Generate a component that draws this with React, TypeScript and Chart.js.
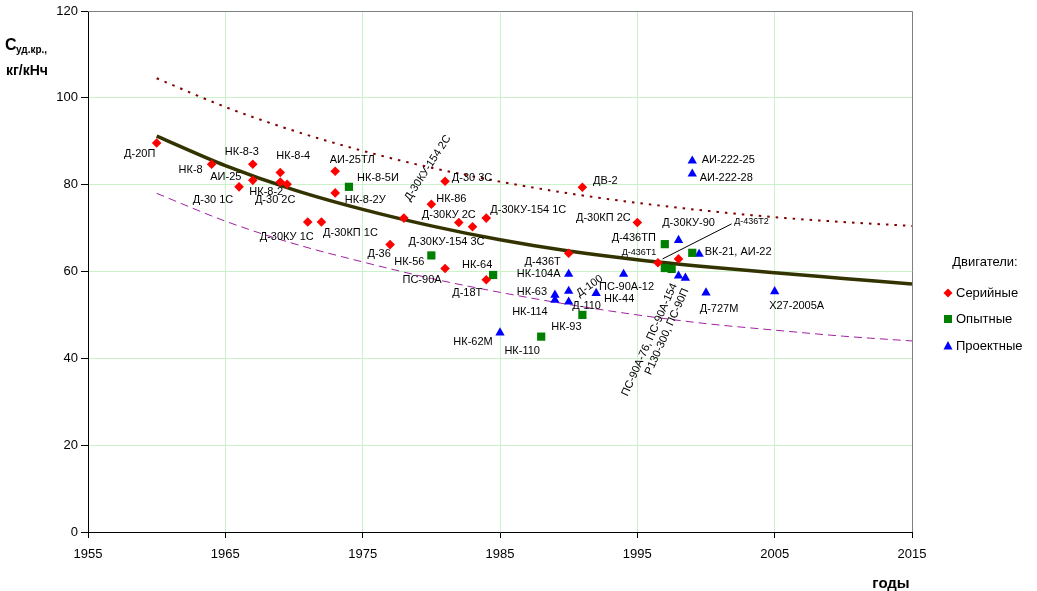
import React, { useEffect, useRef } from "react";
import { Chart, registerables } from "chart.js";

Chart.register(...registerables);

const FONT = '"Liberation Sans", Arial, Helvetica, sans-serif';

// ---------- data ----------
const yearMin = 1955;
const yearMax = 2015;
const yMin = 0;
const yMax = 120;

// Серийные
const serialYears = [1960, 1964, 1967, 1967, 1966, 1969, 1969, 1969.5, 1973, 1973, 1971, 1972, 1977, 1978, 1980, 1981, 1982, 1983, 1984, 1991, 1995, 1990, 1996.5, 1998, 1981, 1984];
const serialValues = [89.6, 84.7, 84.7, 81.0, 79.5, 82.8, 80.6, 80.1, 83.1, 78.1, 71.4, 71.4, 66.2, 72.3, 75.5, 80.8, 71.3, 70.3, 72.3, 79.4, 71.3, 64.2, 62.0, 62.9, 60.7, 58.1];
const serialNames = ["Д-20П", "НК-8", "НК-8-3", "АИ-25", "Д-30 1С", "НК-8-4", "НК-8-2", "Д-30 2С", "АИ-25ТЛ", "НК-8-2У", "Д-30КУ 1С", "Д-30КП 1С", "Д-36", "Д-30КУ-154 2С", "НК-86", "Д-30 3С", "Д-30КУ 2С", "Д-30КУ-154 3С", "Д-30КУ-154 1С", "ДВ-2", "Д-30КП 2С", "Д-436Т", "Д-436Т1", "Д-436Т2", "ПС-90А", "Д-18Т"];
const serialLabelOffsets: [number, number][] = [[-17, 11], [-21, 6], [-11, -12], [-27, -3], [-26, 13], [13, -17], [-14, 10], [-12, 16], [17, -11], [30, 7], [-21, 15], [29, 11], [-11, 9], [24, -50], [20, -5], [27, -3], [-10, -7], [-26, 15], [42, -8], [23, -6], [-34, -4], [-26, 9], [-19, -10], [73, -37], [-23, 12], [-19, 13]];

// Опытные
const experimentalYears = [1974, 1980, 1984.5, 1991, 1988, 1997, 1997, 1997.5, 1999];
const experimentalValues = [79.5, 63.7, 59.2, 50.0, 45.0, 66.3, 60.8, 60.6, 64.3];
const experimentalNames = ["НК-8-5И", "НК-56", "НК-64", "НК-93", "НК-110", "Д-436ТП", "", "", ""];
const experimentalLabelOffsets: [number, number][] = [[29, -9], [-22, 7], [-16, -10], [-16, 12], [-19, 14], [-31, -6], [0, 0], [0, 0], [0, 0]];

// Проектные
const projectYears = [1999, 1999, 1998, 1999.5, 1998, 1998.5, 2000, 2005, 1994, 1990, 1989, 1989, 1990, 1990, 1992, 1985];
const projectValues = [85.5, 82.5, 67.2, 64.0, 59.0, 58.5, 55.1, 55.4, 59.4, 59.4, 54.6, 53.4, 55.5, 53.0, 55.0, 45.9];
const projectNames = ["АИ-222-25", "АИ-222-28", "Д-30КУ-90", "ВК-21, АИ-22", "ПС-90А-76, ПС-90А-154\nР130-300, ПС-90П", "", "Д-727М", "Х27-2005А", "ПС-90А-12", "НК-104А", "НК-63", "НК-114", "Д-100", "Д-110", "НК-44", "НК-62М"];
const projectLabelOffsets: [number, number][] = [[36, -1], [34, 4], [10, -17], [39, -2], [-4, 8], [0, 0], [13, 16], [22, 14], [3, 13], [-30, 0], [-23, -3], [-25, 12], [21, -5], [18, 4], [23, 6], [-27, 9]];

// curves
const curveYears = [1960, 1965, 1970, 1975, 1980, 1985, 1990, 1995, 2000, 2005, 2010, 2015];
const trendValues = [91.2, 84.4, 78.8, 74.3, 70.5, 67.3, 64.7, 62.7, 61.1, 59.7, 58.4, 57.1];
const upperValues = [104.5, 97.9, 92.4, 87.8, 83.9, 80.7, 78.0, 75.8, 74.0, 72.5, 71.4, 70.5];
const lowerValues = [78.0, 71.6, 66.4, 62.2, 58.4, 55.2, 52.4, 50.0, 48.0, 46.5, 45.1, 44.0];

const legendTitle = "Двигатели:";
const legendItems = ["Серийные", "Опытные", "Проектные"];
const yTitleMain = "С";
const yTitleSub = "уд.кр.,";
const yTitleUnit = "кг/кНч";
const xTitle = "годы";

// label styling
const rotatedLabels: Record<string, { angle: number; align: CanvasTextAlign }> = {
  "Д-30КУ-154 2С": { angle: -57, align: "center" },
  "Д-100": { angle: -35, align: "center" },
  "ПС-90А-76, ПС-90А-154\nР130-300, ПС-90П": { angle: -66, align: "right" },
};
const smallLabels = ["Д-436Т1", "Д-436Т2"];
const leaderLines: Record<string, [[number, number], [number, number]]> = {
  "Д-436Т2": [[-16, 0], [53, -35]],
};

const RED = "#ff0000";
const GREEN = "#008000";
const BLUE = "#0000ff";
const GRID = "#ccf2cc";

const toXY = (xs: number[], ys: number[]) => xs.map((x, i) => ({ x, y: ys[i] }));

const labelPlugin = {
  id: "pointLabels",
  afterDatasetsDraw(chart: any) {
    const ctx: CanvasRenderingContext2D = chart.ctx;
    chart.data.datasets.forEach((ds: any, di: number) => {
      if (!ds.pointNames) return;
      const meta = chart.getDatasetMeta(di);
      ds.pointNames.forEach((name: string, i: number) => {
        if (!name) return;
        const el = meta.data[i];
        const [dx, dy] = ds.labelOffsets[i];
        ctx.save();
        ctx.font = `${smallLabels.includes(name) ? 9 : 11}px ${FONT}`;
        ctx.fillStyle = "#000";
        ctx.textBaseline = "middle";
        ctx.translate(el.x + dx, el.y + dy);
        const rot = rotatedLabels[name];
        if (rot) {
          ctx.rotate((rot.angle * Math.PI) / 180);
          ctx.textAlign = rot.align;
        } else {
          ctx.textAlign = "center";
        }
        name.split("\n").forEach((ln, k) => ctx.fillText(ln, 0, k * 12.5));
        ctx.restore();
        const lead = leaderLines[name];
        if (lead) {
          ctx.save();
          ctx.strokeStyle = "#000";
          ctx.lineWidth = 1;
          ctx.beginPath();
          ctx.moveTo(el.x + lead[0][0], el.y + lead[0][1]);
          ctx.lineTo(el.x + lead[1][0], el.y + lead[1][1]);
          ctx.stroke();
          ctx.restore();
        }
      });
    });
  },
};

const framePlugin = {
  id: "frame",
  beforeDatasetsDraw(chart: any) {
    const { ctx, chartArea } = chart;
    ctx.save();
    ctx.strokeStyle = "#808080";
    ctx.lineWidth = 1;
    ctx.beginPath();
    ctx.moveTo(chartArea.left, chartArea.top + 0.5);
    ctx.lineTo(chartArea.right + 0.5, chartArea.top + 0.5);
    ctx.lineTo(chartArea.right + 0.5, chartArea.bottom);
    ctx.stroke();
    ctx.restore();
  },
};

const titlesPlugin = {
  id: "titles",
  afterDraw(chart: any) {
    const ctx: CanvasRenderingContext2D = chart.ctx;
    ctx.save();
    ctx.fillStyle = "#000";
    ctx.textBaseline = "alphabetic";
    ctx.textAlign = "left";
    // Y title
    ctx.font = `bold 16px ${FONT}`;
    ctx.fillText(yTitleMain, 5, 50);
    ctx.font = `bold 10px ${FONT}`;
    ctx.fillText(yTitleSub, 16, 53);
    ctx.font = `bold 14px ${FONT}`;
    ctx.fillText(yTitleUnit, 6, 75);
    // X title
    ctx.font = `bold 15px ${FONT}`;
    ctx.textAlign = "center";
    ctx.fillText(xTitle, 891, 588);
    // Legend
    ctx.font = `13px ${FONT}`;
    ctx.textBaseline = "middle";
    ctx.fillText(legendTitle, 985, 262);
    ctx.textAlign = "left";
    const ys = [293, 319, 346];
    const colors = [RED, GREEN, BLUE];
    legendItems.forEach((txt, i) => {
      const cx = 948;
      const cy = ys[i];
      ctx.fillStyle = colors[i];
      ctx.beginPath();
      if (i === 0) {
        ctx.moveTo(cx, cy - 4.5);
        ctx.lineTo(cx + 4.5, cy);
        ctx.lineTo(cx, cy + 4.5);
        ctx.lineTo(cx - 4.5, cy);
      } else if (i === 1) {
        ctx.rect(cx - 4, cy - 4, 8, 8);
      } else {
        ctx.moveTo(cx, cy - 5);
        ctx.lineTo(cx + 4.5, cy + 3.5);
        ctx.lineTo(cx - 4.5, cy + 3.5);
      }
      ctx.closePath();
      ctx.fill();
      ctx.fillStyle = "#000";
      ctx.fillText(txt, 956, cy);
    });
    ctx.restore();
  },
};

export default function App() {
  const canvasRef = useRef<HTMLCanvasElement | null>(null);

  useEffect(() => {
    document.body.style.margin = "0";
    const canvas = canvasRef.current;
    if (!canvas) return;

    const pointDs = (label: string, xs: number[], ys: number[], names: string[], offsets: [number, number][], color: string, style: string, radius: number) => ({
      type: "scatter",
      label,
      data: toXY(xs, ys),
      pointNames: names,
      labelOffsets: offsets,
      pointStyle: style,
      pointRadius: radius,
      pointBackgroundColor: color,
      pointBorderColor: color,
      pointBorderWidth: 0,
      showLine: false,
      order: 0,
    });

    const curveDs = (label: string, ys: number[], color: string, width: number, dash: number[]) => ({
      type: "line",
      label,
      data: toXY(curveYears, ys),
      borderColor: color,
      borderWidth: width,
      borderDash: dash,
      pointRadius: 0,
      fill: false,
      cubicInterpolationMode: "monotone",
      order: 1,
    });

    const chart = new Chart(canvas, {
      type: "scatter",
      data: {
        datasets: [
          curveDs("upper", upperValues, "#800000", 2, [2.5, 6]),
          curveDs("lower", lowerValues, "#a020a0", 1, [8, 5]),
          curveDs("trend", trendValues, "#333300", 3.5, []),
          pointDs("Серийные", serialYears, serialValues, serialNames, serialLabelOffsets, RED, "rectRot", 4.8),
          pointDs("Опытные", experimentalYears, experimentalValues, experimentalNames, experimentalLabelOffsets, GREEN, "rect", 5.8),
          pointDs("Проектные", projectYears, projectValues, projectNames, projectLabelOffsets, BLUE, "triangle", 5.4),
        ] as any,
      },
      options: {
        animation: false,
        responsive: false,
        maintainAspectRatio: false,
        layout: { padding: { left: 0, top: 11, right: 125, bottom: 0 } },
        plugins: { legend: { display: false }, tooltip: { enabled: false } },
        scales: {
          x: {
            type: "linear",
            min: yearMin,
            max: yearMax,
            afterFit: (s: any) => {
              s.height = 59;
            },
            ticks: {
              stepSize: 10,
              color: "#000",
              font: { family: FONT, size: 13 },
              padding: 9,
              maxRotation: 0,
              callback: (v: any) => String(v),
            },
            grid: {
              color: (c: any) => (c.tick && (c.tick.value === yearMin || c.tick.value === yearMax) ? "rgba(0,0,0,0)" : GRID),
              tickColor: "#000",
              tickLength: 6,
              lineWidth: 1,
            },
            border: { color: "#000", width: 1 },
          },
          y: {
            min: yMin,
            max: yMax,
            afterFit: (s: any) => {
              s.width = 88;
            },
            ticks: {
              stepSize: 20,
              color: "#000",
              font: { family: FONT, size: 13 },
              padding: 3,
            },
            grid: {
              color: (c: any) => (c.tick && (c.tick.value === yMin || c.tick.value === yMax) ? "rgba(0,0,0,0)" : GRID),
              tickColor: "#000",
              tickLength: 7,
              lineWidth: 1,
            },
            border: { color: "#000", width: 1 },
          },
        },
      } as any,
      plugins: [framePlugin, labelPlugin, titlesPlugin],
    });

    return () => chart.destroy();
  }, []);

  return (
    <div style={{ width: 1037, height: 591, position: "relative" }}>
      <canvas ref={canvasRef} width={1037} height={591} style={{ display: "block" }} />
    </div>
  );
}
